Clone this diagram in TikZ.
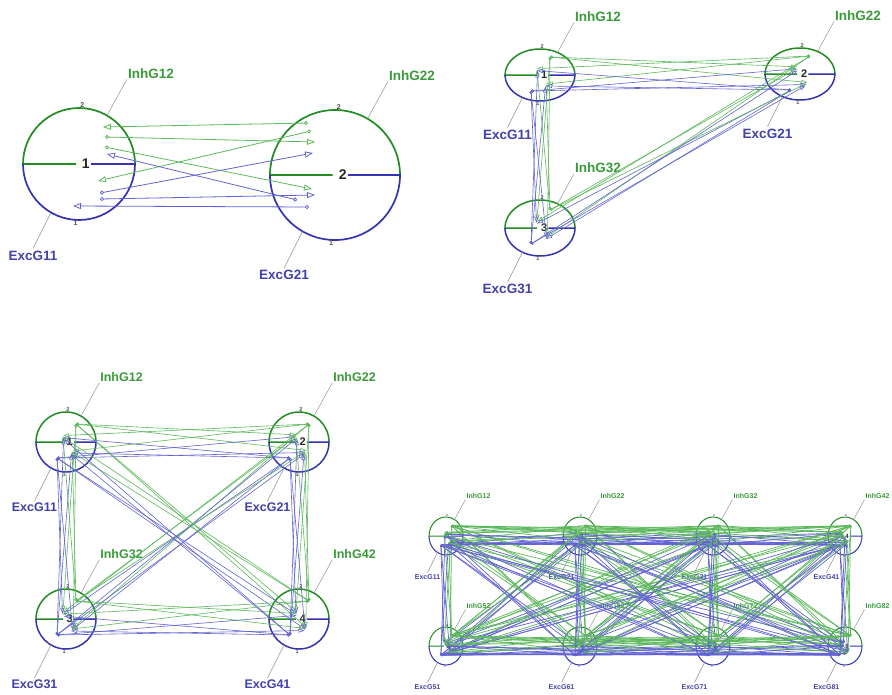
\documentclass[tikz,border=0pt]{standalone}
\usepackage{fontspec}
\setmainfont{Liberation Sans}
\usetikzlibrary{calc,arrows.meta}

\definecolor{inhgreen}{RGB}{34,139,34}
\definecolor{excblue}{RGB}{52,52,176}
\definecolor{inhline}{RGB}{92,184,92}
\definecolor{excline}{RGB}{98,98,210}
\definecolor{inhtext}{RGB}{58,154,58}
\definecolor{exctext}{RGB}{66,66,170}

\tikzset{
  inhc/.style={draw=inhgreen,line width=1.3pt},
  excc/.style={draw=excblue,line width=1.3pt},
  lead/.style={draw=gray!85,line width=0.5pt},
  inhlab/.style={text=inhtext,inner sep=1pt},
  exclab/.style={text=exctext,inner sep=2pt},
  numlab/.style={text=black!85,inner sep=1pt},
  ticklab/.style={text=black!70,inner sep=0.5pt},
  inhw/.style={draw=inhline,line width=0.6pt},
  excw/.style={draw=excline,line width=0.6pt},
  tipl/.style={{Circle[open,length=4pt]}-{Triangle[open,length=8pt,width=6pt]}},
  tipm/.style={{Circle[open,length=3pt]}-{Triangle[open,length=6pt,width=4pt]}},
  tips/.style={{Circle[open,length=2pt]}-{Triangle[open,length=3.5pt,width=2.5pt]}}
}

% one group: name, x, y, rx, ry, number, label size, leader length, number size
\newcommand{\grp}[9]{%
  \coordinate (#1) at (#2,#3);
  \pgfmathsetmacro\tsz{0.5*#9}
  \node[numlab,font=\fontsize{#9}{#9}\selectfont\bfseries] (#1n) at ($(#1)+(0.12*#4,0)$) {#6};
  \draw[inhc] ($(#1n.west)+(-0.08*#4,0)$) -- ($(#1)+(-#4,0)$) arc[start angle=180,end angle=0,x radius=#4pt,y radius=#5pt];
  \draw[excc] (#1n.east) -- ($(#1)+(#4,0)$) arc[start angle=0,end angle=-180,x radius=#4pt,y radius=#5pt];
  \node[ticklab,anchor=south,font=\fontsize{\tsz}{\tsz}\selectfont\bfseries] (#1t) at ($(#1)+(0.06*#4,-#5)$) {2};
  \node[ticklab,anchor=north,font=\fontsize{\tsz}{\tsz}\selectfont\bfseries] (#1b) at ($(#1)+(-0.06*#4,#5)$) {1};
  \coordinate (#1i0) at ($(#1)+(0.5*#4,-0.866*#5)$);
  \coordinate (#1i1) at ($(#1i0)+(0.55*#8,-#8)$);
  \node[inhlab,anchor=south west,font=\fontsize{#7}{#7}\selectfont\bfseries] (#1il) at (#1i1) {InhG#62};
  \draw[lead] (#1i0) -- (#1i1);
  \coordinate (#1e0) at ($(#1)+(-0.5*#4,0.866*#5)$);
  \coordinate (#1e1) at ($(#1e0)+(-0.5*#8,#8)$);
  \node[exclab,anchor=north,font=\fontsize{#7}{#7}\selectfont\bfseries] (#1el) at (#1e1) {ExcG#61};
  \draw[lead] (#1e0) -- (#1e1);
}

% all-to-all links: list of groups, scale, tip style
\newcommand{\links}[3]{%
  \foreach \i [count=\ci] in {#1}{
    \foreach \j [count=\cj] in {#1}{
      \ifnum\ci=\cj\else
        \draw[inhw,#3] ($(\i)+(10*#2,-18*#2)$) -- ($(\j)+(-3*#2,{(-8+0.8*\ci)*#2})$);
        \draw[inhw,#3] ($(\i)+(10*#2,-18*#2)$) -- ($(\j)+({(8-0.6*\ci)*#2},{(8+0.5*\ci)*#2})$);
        \draw[excw,#3] ($(\i)+(-9*#2,16*#2)$) -- ($(\j)+({(-4+0.5*\ci)*#2},{(-6+0.8*\ci)*#2})$);
        \draw[excw,#3] ($(\i)+(-9*#2,16*#2)$) -- ($(\j)+({(7-0.5*\ci)*#2},{(10+0.5*\ci)*#2})$);
      \fi
    }
  }
}

\begin{document}
\begin{tikzpicture}[x=1pt,y=-1pt]
\useasboundingbox (0,0) rectangle (892,694);

% two groups
\begin{scope}[inhc/.append style={line width=1.7pt},excc/.append style={line width=1.7pt},
  inhw/.append style={line width=0.8pt},excw/.append style={line width=0.8pt}]
\grp{a1}{79}{164}{56}{56}{1}{13.5}{36}{14}
\grp{a2}{335}{175}{65}{65}{2}{13.5}{37}{14}
\draw[inhw,tipl] ($(a2)+(-27,-52)$) -- ($(a1)+(24,-37)$);
\draw[inhw,tipl] ($(a1)+(26,-27)$) -- ($(a2)+(-20,-33)$);
\draw[inhw,tipl] ($(a1)+(26,-17)$) -- ($(a2)+(-23,14)$);
\draw[inhw,tipl] ($(a2)+(-24,-44)$) -- ($(a1)+(19,17)$);
\draw[excw,tipl] ($(a2)+(-38,25)$) -- ($(a1)+(28,-10)$);
\draw[excw,tipl] ($(a1)+(21,29)$) -- ($(a2)+(-22,-22)$);
\draw[excw,tipl] ($(a1)+(21,35)$) -- ($(a2)+(-20,20)$);
\draw[excw,tipl] ($(a2)+(-26,32)$) -- ($(a1)+(-6,42)$);
\end{scope}

% three groups
\begin{scope}[inhc/.append style={line width=1.5pt},excc/.append style={line width=1.5pt}]
\grp{b1}{540}{75}{35}{26}{1}{13.5}{30}{11}
\grp{b2}{800}{74}{35}{26}{2}{13.5}{30}{11}
\grp{b3}{540}{228}{35}{28}{3}{13.5}{30}{11}
\links{b1,b2,b3}{1}{tipm}

% four groups
\grp{c1}{66}{442}{30}{30}{1}{12.5}{33}{11}
\grp{c2}{299}{442}{30}{30}{2}{12.5}{33}{11}
\grp{c3}{66}{619}{30}{30}{3}{12.5}{33}{11}
\grp{c4}{299}{619}{30}{30}{4}{12.5}{33}{11}
\links{c1,c2,c3,c4}{1}{tipm}
\end{scope}

% eight groups
\begin{scope}[inhc/.append style={line width=1pt},excc/.append style={line width=1pt},
  inhw/.append style={line width=0.7pt},excw/.append style={line width=0.7pt}]
\grp{d1}{446}{536}{17}{19}{1}{7}{20}{6}
\grp{d2}{580}{536}{17}{19}{2}{7}{20}{6}
\grp{d3}{713}{536}{17}{19}{3}{7}{20}{6}
\grp{d4}{845}{536}{17}{19}{4}{7}{20}{6}
\grp{d5}{446}{646}{17}{19}{5}{7}{20}{6}
\grp{d6}{580}{646}{17}{19}{6}{7}{20}{6}
\grp{d7}{713}{646}{17}{19}{7}{7}{20}{6}
\grp{d8}{845}{646}{17}{19}{8}{7}{20}{6}
\links{d1,d2,d3,d4,d5,d6,d7,d8}{0.57}{tips}
\end{scope}
\end{tikzpicture}
\end{document}
